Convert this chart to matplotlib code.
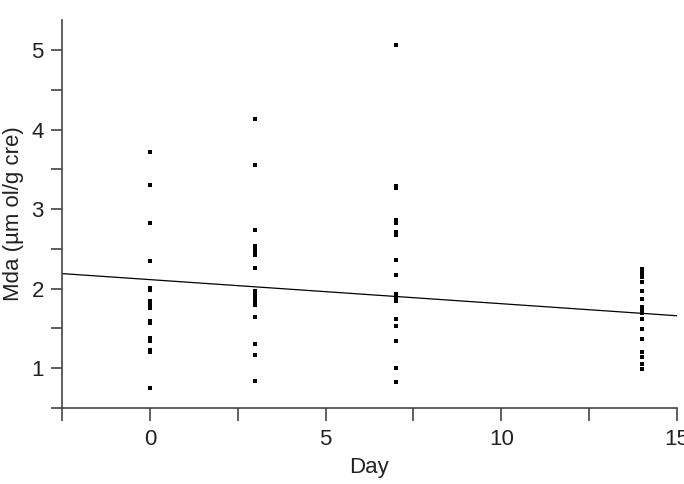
import matplotlib
matplotlib.use('Agg')
import matplotlib.pyplot as plt
import numpy as np
from matplotlib.ticker import MultipleLocator

plt.rcParams['font.family'] = ['Liberation Sans', 'DejaVu Sans']

# values
day0 = [3.72, 3.30, 2.82, 2.35, 2.01, 1.98, 1.84, 1.81, 1.76, 1.59, 1.57,
        1.38, 1.34, 1.23, 1.20, 0.75]
day3 = [4.13, 3.56, 2.74, 2.54, 2.50, 2.46, 2.42, 2.26, 1.97, 1.93, 1.90,
        1.85, 1.80, 1.65, 1.31, 1.17, 0.84]
day7 = [5.07, 3.29, 3.26, 2.86, 2.83, 2.71, 2.68, 2.36, 2.17, 1.93, 1.89,
        1.84, 1.62, 1.53, 1.34, 1.00, 0.83]
day14 = [2.25, 2.20, 2.15, 2.08, 1.97, 1.87, 1.77, 1.72, 1.70, 1.62, 1.49,
         1.37, 1.21, 1.14, 1.05, 0.99]
days = [0, 3, 7, 14]
groups = [day0, day3, day7, day14]

# fitted line as drawn (ends of the line)
line_days = [-2.5, 15]
line_mda = [2.19, 1.66]

fig = plt.figure(figsize=(6.84, 4.84), dpi=100)
ax = fig.add_axes([0.0906, 0.157, 0.899, 0.802])

for d, vals in zip(days, groups):
    ax.plot([d] * len(vals), vals, linestyle='none', marker='s',
            markersize=3, markeredgewidth=0, color='black')

ax.plot(line_days, line_mda, color='black', linewidth=0.9)

ax.set_xlim(-2.5, 15)
ax.set_ylim(0.5, 5.38)
ax.xaxis.set_major_locator(MultipleLocator(5))
ax.xaxis.set_minor_locator(MultipleLocator(2.5))
ax.yaxis.set_major_locator(MultipleLocator(1))
ax.yaxis.set_minor_locator(MultipleLocator(0.5))

gray = '#444444'
for s in ['top', 'right']:
    ax.spines[s].set_visible(False)
for s in ['left', 'bottom']:
    ax.spines[s].set_color(gray)
    ax.spines[s].set_linewidth(1.2)
    ax.spines[s].set_clip_on(False)

ax.tick_params(which='both', direction='out', color=gray, width=1.2,
               length=8, labelsize=16, labelcolor='#222222')
ax.tick_params(axis='x', which='both', length=9, pad=6)
ax.tick_params(axis='y', which='both', pad=5)

ax.set_xlabel('Day', fontsize=16, color='#222222', labelpad=5)
ax.set_ylabel('Mda (\u00b5m ol/g cre)', fontsize=16, color='#222222',
              labelpad=5)

plt.savefig('out.png', dpi=100)
